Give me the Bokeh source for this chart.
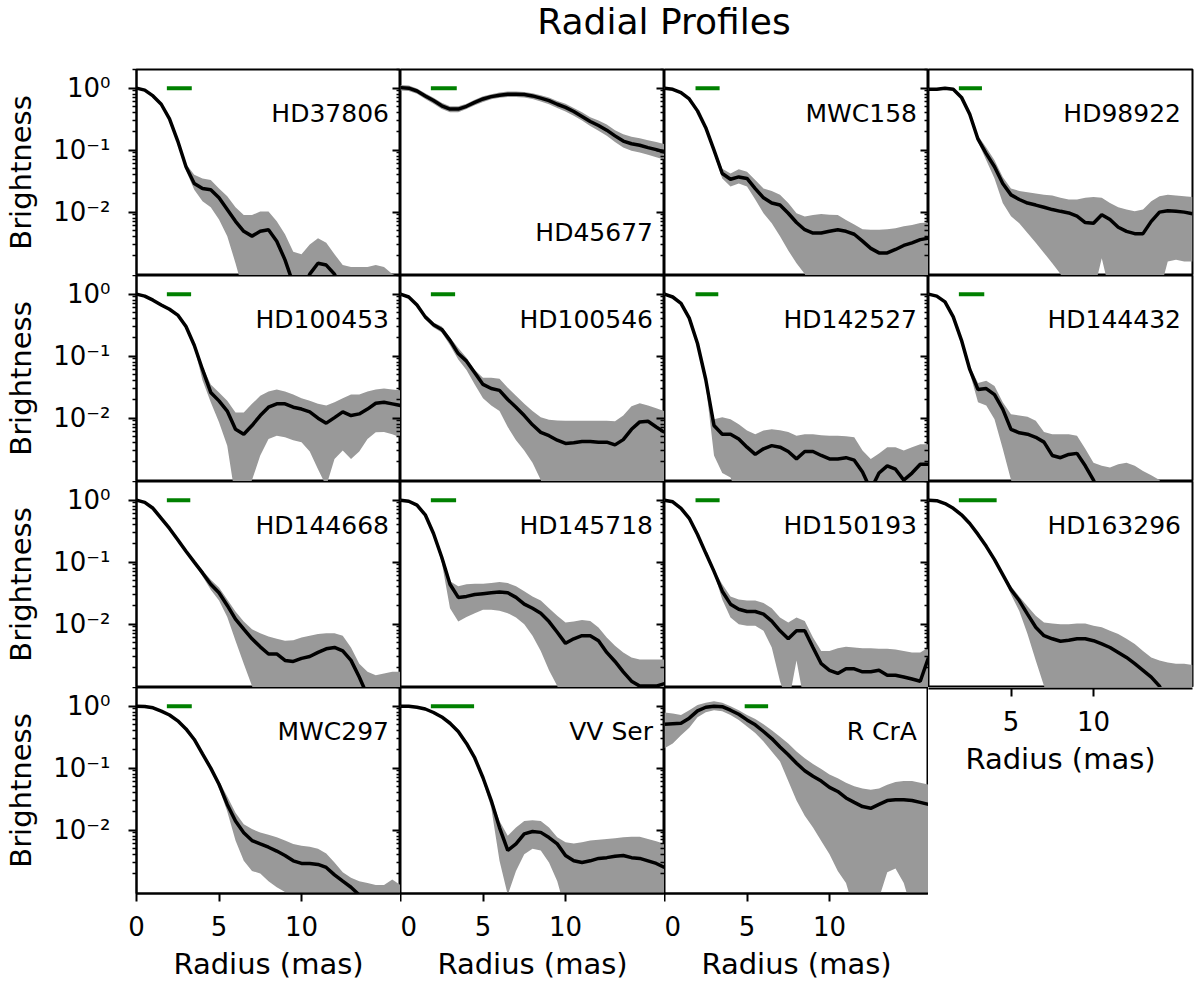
from bokeh.embed import file_html
from bokeh.layouts import column, row
from bokeh.models import (CustomJSTickFormatter, Div, FixedTicker, Label,
                          LinearAxis, LogAxis, Range1d)
from bokeh.plotting import figure
from bokeh.resources import INLINE

RADIUS = [0.0, 0.5, 1.0, 1.5, 2.0, 2.5, 3.0, 3.5, 4.0, 4.5, 5.0,
          5.5, 6.0, 6.5, 7.0, 7.5, 8.0, 8.5, 9.0, 9.5, 10.0, 10.5,
          11.0, 11.5, 12.0, 12.5, 13.0, 13.5, 14.0, 14.5, 15.0, 15.5, 16.0]

hd37806_mid = [1.0, 0.93, 0.75, 0.55, 0.32, 0.14, 0.054, 0.029, 0.024, 0.023, 0.017,
               0.011, 0.0071, 0.0049, 0.0041, 0.0049, 0.0052, 0.0034, 0.0017, 0.0007, 0.0005, 0.001,
               0.0015, 0.0014, 0.001, 0.0005, 0.0005, 0.0005, 0.0005, 0.0005, 0.0005, 0.0005, 0.0005]
hd37806_hi = [1.03, 0.97, 0.79, 0.58, 0.34, 0.15, 0.06, 0.04, 0.035, 0.033, 0.024,
              0.018, 0.012, 0.009, 0.009, 0.0102, 0.0102, 0.0071, 0.0044, 0.0023, 0.0021, 0.003,
              0.0038, 0.0032, 0.0021, 0.0014, 0.0013, 0.0013, 0.0013, 0.0014, 0.0013, 0.001, 0.0009]
hd37806_lo = [0.97, 0.89, 0.71, 0.52, 0.3, 0.13, 0.047, 0.023, 0.015, 0.012, 0.0076,
              0.0041, 0.0015, 0.0005, 0.0005, 0.0005, 0.0005, 0.0005, 0.0005, 0.0005, 0.0005, 0.0005,
              0.0005, 0.0005, 0.0005, 0.0005, 0.0005, 0.0005, 0.0005, 0.0005, 0.0005, 0.0005, 0.0005]

hd45677_mid = [1.02, 1.0, 0.9, 0.75, 0.63, 0.52, 0.46, 0.46, 0.51, 0.59, 0.67,
               0.73, 0.77, 0.8, 0.8, 0.79, 0.75, 0.69, 0.63, 0.55, 0.49, 0.42,
               0.35, 0.29, 0.25, 0.21, 0.17, 0.14, 0.127, 0.12, 0.11, 0.102, 0.093]
hd45677_hi = [1.12, 1.1, 0.99, 0.83, 0.7, 0.58, 0.51, 0.51, 0.56, 0.65, 0.74,
              0.8, 0.85, 0.88, 0.88, 0.87, 0.83, 0.77, 0.71, 0.62, 0.56, 0.48,
              0.41, 0.34, 0.3, 0.26, 0.21, 0.18, 0.165, 0.155, 0.145, 0.135, 0.125]
hd45677_lo = [0.92, 0.9, 0.81, 0.67, 0.56, 0.46, 0.41, 0.41, 0.46, 0.53, 0.6,
              0.66, 0.7, 0.72, 0.72, 0.71, 0.67, 0.61, 0.55, 0.48, 0.42, 0.36,
              0.3, 0.245, 0.205, 0.17, 0.135, 0.11, 0.098, 0.092, 0.084, 0.077, 0.07]

mwc158_mid = [1.0, 0.96, 0.85, 0.67, 0.43, 0.23, 0.1, 0.042, 0.034, 0.037, 0.035,
              0.024, 0.017, 0.014, 0.013, 0.0096, 0.0068, 0.0052, 0.0046, 0.0046, 0.0049, 0.0052,
              0.0049, 0.0044, 0.0034, 0.0026, 0.0022, 0.0022, 0.0025, 0.0029, 0.0032, 0.0036, 0.0038]
mwc158_hi = [1.03, 0.99, 0.88, 0.7, 0.45, 0.245, 0.11, 0.05, 0.042, 0.049, 0.045,
             0.033, 0.024, 0.022, 0.019, 0.014, 0.0096, 0.0085, 0.009, 0.0093, 0.0091, 0.009,
             0.0075, 0.0063, 0.0053, 0.0052, 0.0052, 0.0053, 0.0055, 0.0059, 0.0062, 0.0067, 0.0068]
mwc158_lo = [0.97, 0.93, 0.82, 0.64, 0.41, 0.215, 0.088, 0.035, 0.026, 0.029, 0.026,
             0.016, 0.0096, 0.0066, 0.0041, 0.0024, 0.0015, 0.001, 0.0005, 0.0005, 0.0005, 0.0005,
             0.0005, 0.0005, 0.0005, 0.0005, 0.0005, 0.0005, 0.0005, 0.0005, 0.0005, 0.0005, 0.0005]

hd98922_mid = [0.96, 0.96, 1.0, 0.96, 0.71, 0.38, 0.15, 0.088, 0.054, 0.029, 0.019,
               0.016, 0.014, 0.013, 0.012, 0.011, 0.0103, 0.0097, 0.0086, 0.0068, 0.0066, 0.0091,
               0.0076, 0.0057, 0.0049, 0.0045, 0.0045, 0.0071, 0.01, 0.0105, 0.0103, 0.01, 0.0094]
hd98922_hi = [1.0, 1.0, 1.04, 1.0, 0.75, 0.41, 0.17, 0.11, 0.069, 0.037, 0.024,
              0.022, 0.021, 0.02, 0.019, 0.0185, 0.017, 0.016, 0.016, 0.017, 0.0175, 0.017,
              0.014, 0.012, 0.011, 0.0103, 0.011, 0.015, 0.018, 0.019, 0.0185, 0.018, 0.0175]
hd98922_lo = [0.92, 0.92, 0.96, 0.92, 0.67, 0.35, 0.135, 0.069, 0.035, 0.014, 0.0086,
              0.0066, 0.0046, 0.0032, 0.0022, 0.0015, 0.001, 0.0005, 0.0005, 0.0005, 0.0005, 0.0018,
              0.0005, 0.0005, 0.0005, 0.0005, 0.0005, 0.0005, 0.0005, 0.0016, 0.0017, 0.0016, 0.0016]

hd100453_mid = [1.0, 0.93, 0.8, 0.67, 0.57, 0.46, 0.3, 0.15, 0.061, 0.026, 0.019,
                0.013, 0.0066, 0.0055, 0.0076, 0.011, 0.015, 0.017, 0.017, 0.015, 0.014, 0.0126,
                0.01, 0.0083, 0.0102, 0.0126, 0.011, 0.0117, 0.014, 0.0174, 0.018, 0.017, 0.016]
hd100453_hi = [1.03, 0.96, 0.83, 0.7, 0.6, 0.48, 0.32, 0.16, 0.069, 0.035, 0.026,
               0.019, 0.0123, 0.0123, 0.017, 0.023, 0.027, 0.029, 0.027, 0.024, 0.021, 0.019,
               0.017, 0.016, 0.018, 0.021, 0.024, 0.024, 0.027, 0.029, 0.03, 0.029, 0.028]
hd100453_lo = [0.97, 0.9, 0.77, 0.64, 0.54, 0.44, 0.28, 0.14, 0.041, 0.018, 0.0086,
               0.0036, 0.0005, 0.0005, 0.001, 0.0025, 0.0046, 0.0052, 0.0049, 0.0044, 0.0041, 0.0029,
               0.0015, 0.0008, 0.0022, 0.003, 0.0022, 0.0029, 0.0046, 0.0059, 0.006, 0.0055, 0.0049]

hd100546_mid = [1.0, 0.9, 0.67, 0.43, 0.32, 0.27, 0.18, 0.11, 0.083, 0.054, 0.035,
                0.03, 0.028, 0.02, 0.015, 0.011, 0.0078, 0.0059, 0.0052, 0.0044, 0.0039, 0.004,
                0.0042, 0.0042, 0.0041, 0.0041, 0.0037, 0.0045, 0.0066, 0.0087, 0.0089, 0.0072, 0.0059]
hd100546_hi = [1.03, 0.94, 0.71, 0.46, 0.35, 0.3, 0.2, 0.135, 0.094, 0.06, 0.045,
               0.045, 0.043, 0.031, 0.023, 0.017, 0.013, 0.0103, 0.0094, 0.0092, 0.0091, 0.0091,
               0.0091, 0.0091, 0.0091, 0.0091, 0.0089, 0.011, 0.0155, 0.0174, 0.016, 0.0145, 0.013]
hd100546_lo = [0.97, 0.86, 0.63, 0.4, 0.29, 0.24, 0.15, 0.088, 0.06, 0.035, 0.021,
               0.016, 0.013, 0.0072, 0.0044, 0.003, 0.0019, 0.001, 0.0005, 0.0005, 0.0005, 0.0005,
               0.0005, 0.0005, 0.0005, 0.0005, 0.0005, 0.0005, 0.0005, 0.0005, 0.0005, 0.0005, 0.0005]

hd142527_mid = [1.0, 0.9, 0.71, 0.41, 0.16, 0.042, 0.0076, 0.0055, 0.0055, 0.0046, 0.0034,
                0.0026, 0.0032, 0.0036, 0.0034, 0.0029, 0.0022, 0.0029, 0.0029, 0.0025, 0.0022, 0.0022,
                0.0023, 0.0021, 0.00135, 0.0007, 0.0013, 0.0017, 0.0015, 0.001, 0.0013, 0.0018, 0.0018]
hd142527_hi = [1.03, 0.93, 0.74, 0.43, 0.17, 0.048, 0.0096, 0.0103, 0.0096, 0.008, 0.0063,
               0.0055, 0.0063, 0.0066, 0.0064, 0.006, 0.0052, 0.0055, 0.0055, 0.0053, 0.0052, 0.0052,
               0.0051, 0.0049, 0.003, 0.0022, 0.0027, 0.0034, 0.0034, 0.003, 0.0034, 0.0038, 0.0038]
hd142527_lo = [0.97, 0.87, 0.68, 0.39, 0.15, 0.035, 0.0025, 0.0013, 0.0011, 0.0005, 0.0005,
               0.0005, 0.0005, 0.0005, 0.0005, 0.0005, 0.0005, 0.0005, 0.0005, 0.0005, 0.0005, 0.0005,
               0.0005, 0.0005, 0.0005, 0.0005, 0.0005, 0.0005, 0.0005, 0.0005, 0.0005, 0.0005, 0.0005]

hd144432_mid = [1.0, 0.93, 0.75, 0.43, 0.18, 0.061, 0.029, 0.03, 0.024, 0.014, 0.0066,
                0.0058, 0.0055, 0.0049, 0.0041, 0.0025, 0.0023, 0.0026, 0.0027, 0.0017, 0.001, 0.0005,
                0.0005, 0.0005, 0.0005, 0.0005, 0.0005, 0.0005, 0.0005, 0.0005, 0.0005, 0.0005, 0.0005]
hd144432_hi = [1.03, 0.96, 0.78, 0.45, 0.19, 0.069, 0.037, 0.04, 0.033, 0.018, 0.0116,
               0.011, 0.0105, 0.0091, 0.006, 0.0055, 0.0055, 0.0055, 0.0052, 0.0032, 0.0019, 0.0017,
               0.0016, 0.0018, 0.0019, 0.0017, 0.0014, 0.0012, 0.001, 0.0005, 0.0005, 0.0005, 0.0005]
hd144432_lo = [0.97, 0.9, 0.72, 0.41, 0.17, 0.054, 0.018, 0.016, 0.0096, 0.0032, 0.001,
               0.0005, 0.0005, 0.0005, 0.0005, 0.0005, 0.0005, 0.0005, 0.0005, 0.0005, 0.0005, 0.0005,
               0.0005, 0.0005, 0.0005, 0.0005, 0.0005, 0.0005, 0.0005, 0.0005, 0.0005, 0.0005, 0.0005]

hd144668_mid = [1.0, 0.92, 0.74, 0.51, 0.35, 0.23, 0.15, 0.1, 0.067, 0.044, 0.032,
                0.02, 0.012, 0.0083, 0.0058, 0.0043, 0.0033, 0.0033, 0.0026, 0.0025, 0.0028, 0.003,
                0.0035, 0.004, 0.0042, 0.0037, 0.0026, 0.0014, 0.0007, 0.0005, 0.0005, 0.0005, 0.0005]
hd144668_hi = [1.03, 0.95, 0.77, 0.53, 0.37, 0.245, 0.16, 0.105, 0.074, 0.052, 0.039,
               0.025, 0.016, 0.011, 0.0083, 0.0071, 0.0063, 0.0058, 0.0054, 0.0055, 0.0061, 0.0065,
               0.0069, 0.0071, 0.0071, 0.0065, 0.0042, 0.0023, 0.0017, 0.0015, 0.0016, 0.0017, 0.0017]
hd144668_lo = [0.97, 0.89, 0.71, 0.49, 0.33, 0.215, 0.14, 0.095, 0.059, 0.036, 0.024,
               0.013, 0.0054, 0.0023, 0.001, 0.0005, 0.0005, 0.0005, 0.0005, 0.0005, 0.0005, 0.0005,
               0.0005, 0.0005, 0.0005, 0.0005, 0.0005, 0.0005, 0.0005, 0.0005, 0.0005, 0.0005, 0.0005]

hd145718_mid = [1.0, 0.96, 0.83, 0.58, 0.29, 0.12, 0.044, 0.027, 0.028, 0.03, 0.031,
                0.032, 0.033, 0.032, 0.027, 0.021, 0.018, 0.015, 0.011, 0.0074, 0.0049, 0.0058,
                0.0065, 0.0065, 0.0054, 0.0035, 0.0025, 0.0017, 0.0012, 0.001, 0.001, 0.001, 0.0011]
hd145718_hi = [1.03, 0.99, 0.86, 0.61, 0.31, 0.13, 0.049, 0.041, 0.044, 0.045, 0.045,
               0.046, 0.048, 0.046, 0.041, 0.034, 0.028, 0.024, 0.018, 0.0137, 0.0106, 0.011,
               0.0117, 0.0112, 0.0088, 0.0061, 0.0045, 0.0035, 0.0029, 0.0027, 0.0027, 0.0027, 0.0027]
hd145718_lo = [0.97, 0.93, 0.8, 0.55, 0.27, 0.1, 0.018, 0.011, 0.013, 0.015, 0.017,
               0.017, 0.0165, 0.015, 0.0128, 0.01, 0.0065, 0.0037, 0.0018, 0.001, 0.0005, 0.0005,
               0.0005, 0.0005, 0.0005, 0.0005, 0.0005, 0.0005, 0.0005, 0.0005, 0.0005, 0.0005, 0.0005]

hd150193_mid = [1.0, 0.94, 0.74, 0.51, 0.28, 0.14, 0.071, 0.034, 0.021, 0.0174, 0.016,
                0.016, 0.0145, 0.0112, 0.0078, 0.0058, 0.0078, 0.0078, 0.0042, 0.0023, 0.0018, 0.0016,
                0.0019, 0.0019, 0.0017, 0.0017, 0.0018, 0.0015, 0.0015, 0.0014, 0.0013, 0.0012, 0.0029]
hd150193_hi = [1.03, 0.97, 0.77, 0.53, 0.3, 0.15, 0.075, 0.044, 0.028, 0.025, 0.024,
               0.024, 0.022, 0.018, 0.0128, 0.0106, 0.0128, 0.0112, 0.0061, 0.0037, 0.0037, 0.0041,
               0.0043, 0.0042, 0.0041, 0.0041, 0.004, 0.004, 0.0039, 0.0037, 0.0035, 0.0035, 0.0042]
hd150193_lo = [0.97, 0.91, 0.71, 0.49, 0.26, 0.13, 0.067, 0.025, 0.0128, 0.01, 0.0094,
               0.0094, 0.0078, 0.0042, 0.0012, 0.0005, 0.0026, 0.0005, 0.0005, 0.0005, 0.0005, 0.0005,
               0.0005, 0.0005, 0.0005, 0.0005, 0.0005, 0.0005, 0.0005, 0.0005, 0.0005, 0.0005, 0.0005]

hd163296_mid = [1.0, 0.98, 0.88, 0.74, 0.58, 0.42, 0.28, 0.18, 0.11, 0.063, 0.036,
                0.024, 0.0145, 0.0089, 0.0065, 0.0058, 0.0053, 0.0055, 0.0058, 0.0058, 0.0054, 0.0048,
                0.0042, 0.0035, 0.0029, 0.0023, 0.0018, 0.0014, 0.001, 0.0005, 0.0005, 0.0005, 0.0005]
hd163296_hi = [1.03, 1.01, 0.91, 0.77, 0.6, 0.44, 0.29, 0.19, 0.115, 0.066, 0.041,
               0.028, 0.0195, 0.0137, 0.0106, 0.0102, 0.01, 0.01, 0.0102, 0.0102, 0.0094, 0.0089,
               0.0078, 0.0069, 0.0058, 0.0048, 0.0037, 0.0029, 0.0026, 0.0024, 0.0023, 0.0023, 0.0022]
hd163296_lo = [0.97, 0.95, 0.85, 0.71, 0.56, 0.4, 0.27, 0.17, 0.105, 0.059, 0.03,
               0.0163, 0.0069, 0.0026, 0.001, 0.0005, 0.0005, 0.0005, 0.0005, 0.0005, 0.0005, 0.0005,
               0.0005, 0.0005, 0.0005, 0.0005, 0.0005, 0.0005, 0.0005, 0.0005, 0.0005, 0.0005, 0.0005]

mwc297_mid = [1.0, 0.99, 0.94, 0.83, 0.72, 0.58, 0.43, 0.29, 0.17, 0.1, 0.055,
              0.026, 0.014, 0.0091, 0.0068, 0.006, 0.0053, 0.0046, 0.0039, 0.0032, 0.0029, 0.0029,
              0.0028, 0.0025, 0.0019, 0.0015, 0.0012, 0.0009, 0.0005, 0.0005, 0.0005, 0.0005, 0.0005]
mwc297_hi = [1.03, 1.02, 0.97, 0.86, 0.75, 0.6, 0.45, 0.3, 0.18, 0.106, 0.062,
             0.035, 0.019, 0.0125, 0.0104, 0.0092, 0.0084, 0.0077, 0.0068, 0.006, 0.0056, 0.0054,
             0.005, 0.0042, 0.003, 0.0021, 0.0017, 0.0015, 0.0014, 0.0013, 0.0013, 0.0016, 0.0013]
mwc297_lo = [0.97, 0.96, 0.91, 0.8, 0.69, 0.56, 0.41, 0.28, 0.16, 0.095, 0.048,
             0.02, 0.0068, 0.0032, 0.0022, 0.002, 0.0015, 0.0012, 0.001, 0.0005, 0.0005, 0.0005,
             0.0005, 0.0005, 0.0005, 0.0005, 0.0005, 0.0005, 0.0005, 0.0005, 0.0005, 0.0005, 0.0005]

vvser_mid = [1.0, 1.0, 0.96, 0.9, 0.79, 0.67, 0.53, 0.39, 0.25, 0.146, 0.07,
             0.03, 0.011, 0.0047, 0.006, 0.0087, 0.0095, 0.0092, 0.0076, 0.006, 0.0039, 0.0032,
             0.003, 0.0032, 0.0035, 0.0036, 0.0038, 0.0039, 0.0036, 0.0035, 0.0032, 0.0029, 0.0025]
vvser_hi = [1.03, 1.03, 0.99, 0.93, 0.82, 0.69, 0.55, 0.4, 0.26, 0.152, 0.075,
            0.033, 0.014, 0.0081, 0.011, 0.0141, 0.0145, 0.014, 0.011, 0.0077, 0.0064, 0.0061,
            0.0064, 0.0068, 0.007, 0.0072, 0.0074, 0.0077, 0.0078, 0.0078, 0.0072, 0.0066, 0.006]
vvser_lo = [0.97, 0.97, 0.93, 0.87, 0.76, 0.65, 0.51, 0.38, 0.24, 0.14, 0.062,
            0.023, 0.0032, 0.0009, 0.0022, 0.0041, 0.005, 0.0047, 0.003, 0.0015, 0.0005, 0.0005,
            0.0005, 0.0005, 0.0005, 0.0005, 0.0005, 0.0005, 0.0005, 0.0005, 0.0005, 0.0005, 0.0005]

rcra_mid = [0.51, 0.52, 0.53, 0.64, 0.84, 0.96, 1.0, 0.98, 0.86, 0.74, 0.6,
            0.5, 0.39, 0.3, 0.22, 0.165, 0.12, 0.091, 0.074, 0.062, 0.049, 0.042,
            0.033, 0.028, 0.024, 0.0225, 0.026, 0.03, 0.031, 0.031, 0.03, 0.028, 0.026]
rcra_hi = [0.79, 0.76, 0.72, 0.86, 1.04, 1.14, 1.2, 1.14, 1.0, 0.86, 0.72,
           0.62, 0.51, 0.41, 0.32, 0.25, 0.186, 0.145, 0.117, 0.097, 0.079, 0.069,
           0.058, 0.051, 0.047, 0.045, 0.047, 0.054, 0.06, 0.062, 0.062, 0.058, 0.054]
rcra_lo = [0.21, 0.25, 0.34, 0.45, 0.66, 0.8, 0.86, 0.83, 0.72, 0.6, 0.47,
           0.37, 0.27, 0.186, 0.128, 0.062, 0.03, 0.017, 0.011, 0.0067, 0.0041, 0.0022,
           0.0014, 0.0005, 0.0005, 0.0005, 0.0008, 0.0021, 0.0024, 0.0014, 0.0005, 0.0005, 0.0005]

NAMES = ["HD37806", "HD45677", "MWC158", "HD98922",
         "HD100453", "HD100546", "HD142527", "HD144432",
         "HD144668", "HD145718", "HD150193", "HD163296",
         "MWC297", "VV Ser", "R CrA"]
MIDS = [hd37806_mid, hd45677_mid, mwc158_mid, hd98922_mid,
        hd100453_mid, hd100546_mid, hd142527_mid, hd144432_mid,
        hd144668_mid, hd145718_mid, hd150193_mid, hd163296_mid,
        mwc297_mid, vvser_mid, rcra_mid]
HIS = [hd37806_hi, hd45677_hi, mwc158_hi, hd98922_hi,
       hd100453_hi, hd100546_hi, hd142527_hi, hd144432_hi,
       hd144668_hi, hd145718_hi, hd150193_hi, hd163296_hi,
       mwc297_hi, vvser_hi, rcra_hi]
LOS = [hd37806_lo, hd45677_lo, mwc158_lo, hd98922_lo,
       hd100453_lo, hd100546_lo, hd142527_lo, hd144432_lo,
       hd144668_lo, hd145718_lo, hd150193_lo, hd163296_lo,
       mwc297_lo, vvser_lo, rcra_lo]

# green bars (beam size) drawn at brightness 1
BEAM_START = [1.84, 1.84, 1.88, 1.84, 1.84, 1.84, 1.88, 1.84,
              1.84, 1.84, 1.88, 1.84, 1.84, 1.84, 4.86]
BEAM_END = [3.35, 3.41, 3.34, 3.24, 3.31, 3.31, 3.26, 3.38,
            3.26, 3.37, 3.34, 4.13, 3.35, 4.46, 6.28]
BEAM_LEVEL = 1.0

for series in MIDS + HIS + LOS:
    assert len(series) == len(RADIUS)

Y_LOW, Y_HIGH = 0.00095, 2.0
FONT = "DejaVu Sans"
LOG_MAJOR = [0.01, 0.1, 1.0]
LOG_MINOR = [k * 10.0 ** e for e in (-3, -2, -1) for k in range(2, 10)] + [2.0]

exp_code = """
const sup = {"0": "\u2070", "1": "\u00b9", "2": "\u00b2", "3": "\u00b3", "-": "\u207b"};
const e = Math.round(Math.log10(tick));
return "10" + String(e).split("").map(c => sup[c]).join("");
"""


def style_axis(ax):
    ax.axis_line_color = "black"
    ax.axis_line_width = 2
    ax.major_tick_line_width = 2
    ax.minor_tick_line_width = 1.5
    ax.major_tick_line_color = "black"
    ax.minor_tick_line_color = "black"
    ax.major_label_text_font = FONT
    ax.major_label_text_font_size = "26px"
    ax.major_label_text_color = "black"
    ax.axis_label_text_font = FONT
    ax.axis_label_text_font_size = "29px"
    ax.axis_label_text_font_style = "normal"
    ax.axis_label_text_color = "black"


def x_axis(ticks):
    ax = LinearAxis(ticker=FixedTicker(ticks=ticks), axis_label="Radius (mas)")
    style_axis(ax)
    ax.major_tick_out = 8
    ax.major_tick_in = 0
    ax.minor_tick_out = 0
    ax.minor_tick_in = 0
    ax.major_label_standoff = 14
    ax.axis_label_standoff = 8
    return ax


def panel(i):
    r, c = divmod(i, 4)
    p = figure(frame_width=264, frame_height=206,
               x_range=Range1d(0, 16), y_range=Range1d(Y_LOW, Y_HIGH),
               y_axis_type="log", x_axis_location=None, y_axis_location=None,
               toolbar_location=None, output_backend="svg",
               min_border=0,
               min_border_left=136 if c == 0 else 0,
               min_border_right=2 if c == 3 else 0,
               min_border_top=1 if r == 0 else 0,
               min_border_bottom=90 if r == 3 else 0)
    p.outline_line_color = "black"
    p.outline_line_width = 2
    p.xgrid.visible = False
    p.ygrid.visible = False

    p.varea(x=RADIUS, y1=LOS[i], y2=HIS[i], fill_color="#999999")
    p.line(x=RADIUS, y=MIDS[i], line_color="black", line_width=3.5)
    p.segment(x0=[BEAM_START[i]], y0=[BEAM_LEVEL], x1=[BEAM_END[i]], y1=[BEAM_LEVEL],
              line_color="#008000", line_width=4)

    label_y = 0.0047 if NAMES[i] == "HD45677" else 0.39
    p.add_layout(Label(x=15.3, y=label_y, text=NAMES[i], text_align="right",
                       text_baseline="alphabetic", text_font=FONT,
                       text_font_size="25px", text_color="black"))

    if c == 0:
        ya = LogAxis(ticker=FixedTicker(ticks=LOG_MAJOR, minor_ticks=LOG_MINOR),
                     formatter=CustomJSTickFormatter(code=exp_code),
                     axis_label="Brightness")
        style_axis(ya)
        ya.major_tick_out = 8
        ya.major_tick_in = 0
        ya.minor_tick_out = 4
        ya.minor_tick_in = 0
        ya.major_label_standoff = 18
        ya.axis_label_standoff = 12
        p.add_layout(ya, "left")

    # ticks of the neighbouring panel's y axis, pointing into this one
    if c < 3 and i + 1 < len(NAMES):
        ra = LogAxis(ticker=FixedTicker(ticks=LOG_MAJOR, minor_ticks=LOG_MINOR),
                     formatter=CustomJSTickFormatter(code="return '';"))
        style_axis(ra)
        ra.axis_line_color = None
        ra.major_tick_in = 8
        ra.major_tick_out = 0
        ra.minor_tick_in = 4
        ra.minor_tick_out = 0
        ra.major_label_standoff = 0
        ra.major_label_text_font_size = "0px"
        p.add_layout(ra, "right")

    if r == 3:
        p.add_layout(x_axis([0, 5, 10]), "below")
    return p


panels = [panel(i) for i in range(len(NAMES))]

# x axis hanging under HD163296 in the empty corner
corner = figure(frame_width=264, frame_height=1, x_range=Range1d(0, 16), y_range=Range1d(0, 1),
                x_axis_location=None, y_axis_location=None, toolbar_location=None,
                output_backend="svg", min_border=0, min_border_right=2, min_border_bottom=90)
corner.outline_line_color = None
corner.xgrid.visible = False
corner.ygrid.visible = False
corner.add_layout(x_axis([5, 10]), "below")

title = Div(text=f"<div style='width:1056px;margin-left:136px;margin-top:4px;text-align:center;"
                 f"font-family:\"{FONT}\";font-size:36px;line-height:36px;color:black'>Radial Profiles</div>",
            width=1192, height=68, margin=0)

layout = column(title,
                row(*panels[0:4]),
                row(*panels[4:8]),
                row(*panels[8:12]),
                row(*panels[12:15], corner))

open("out.html", "w").write(file_html(layout, INLINE, "Radial Profiles"))
